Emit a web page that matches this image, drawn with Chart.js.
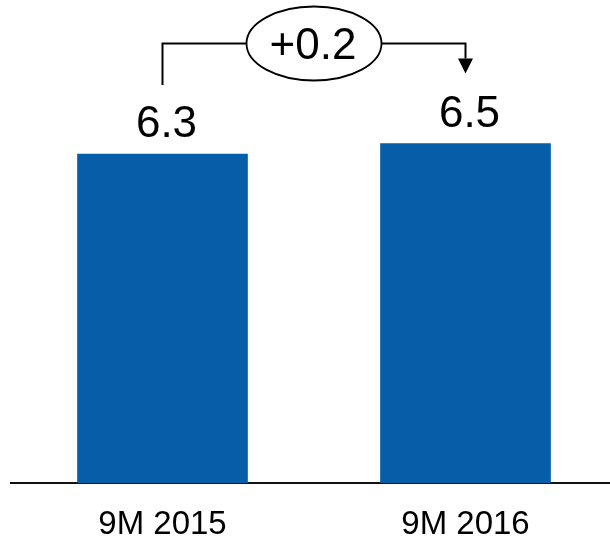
<!DOCTYPE html>
<html>
<head>
<meta charset="utf-8">
<script src="https://cdn.jsdelivr.net/npm/chart.js@4/dist/chart.umd.min.js"></script>
<style>
  html, body { margin: 0; padding: 0; background: #fff; overflow: hidden; }
  canvas { display: block; }
</style>
</head>
<body>
<canvas id="c" width="617" height="540"></canvas>
<script>
// Nine-month figures
const categories = ['9M 2015', '9M 2016'];
const values = [6.3, 6.5];

const FONT = '"Liberation Sans", Arial, Helvetica, sans-serif';
const BAR_BLUE = '#055EA7';

// Value labels above each bar
const valueLabels = {
  id: 'valueLabels',
  afterDatasetsDraw(chart) {
    const ctx = chart.ctx;
    const meta = chart.getDatasetMeta(0);
    ctx.save();
    ctx.fillStyle = '#000';
    ctx.font = '44px ' + FONT;
    ctx.textAlign = 'center';
    ctx.textBaseline = 'alphabetic';
    meta.data.forEach((bar, i) => {
      ctx.fillText(values[i].toFixed(1), bar.x + 4, bar.y - 17);
    });
    ctx.restore();
  }
};

// Bracket with the change between the two periods
const changeBracket = {
  id: 'changeBracket',
  afterDatasetsDraw(chart) {
    const ctx = chart.ctx;
    const meta = chart.getDatasetMeta(0);
    const a = meta.data[0], b = meta.data[1];
    const delta = values[1] - values[0];
    const text = (delta >= 0 ? '+' : '') + delta.toFixed(1);

    const lineY = 43.5;
    const startBottom = a.y - 69;   // just above the first value label
    const tipY = b.y - 70;          // arrow tip above the second value label
    const cx = (a.x + b.x) / 2;
    const rx = 67.5, ry = 37;

    ctx.save();
    ctx.strokeStyle = '#000';
    ctx.fillStyle = '#000';
    ctx.lineWidth = 2;

    ctx.beginPath();
    ctx.moveTo(a.x, startBottom);
    ctx.lineTo(a.x, lineY);
    ctx.lineTo(cx - rx, lineY);
    ctx.stroke();

    ctx.beginPath();
    ctx.moveTo(cx + rx, lineY);
    ctx.lineTo(b.x, lineY);
    ctx.lineTo(b.x, tipY - 15);
    ctx.stroke();

    ctx.beginPath();
    ctx.moveTo(b.x - 7.5, tipY - 15);
    ctx.lineTo(b.x + 7.5, tipY - 15);
    ctx.lineTo(b.x, tipY);
    ctx.closePath();
    ctx.fill();

    ctx.lineWidth = 1.8;
    ctx.beginPath();
    ctx.ellipse(cx, lineY, rx, ry, 0, 0, Math.PI * 2);
    ctx.fillStyle = '#fff';
    ctx.fill();
    ctx.stroke();

    ctx.fillStyle = '#000';
    ctx.font = '44px ' + FONT;
    ctx.textAlign = 'center';
    ctx.textBaseline = 'alphabetic';
    ctx.fillText(text, cx - 1, lineY + 15);
    ctx.restore();
  }
};

new Chart(document.getElementById('c'), {
  type: 'bar',
  data: {
    labels: categories,
    datasets: [{
      data: values,
      backgroundColor: BAR_BLUE,
      borderWidth: 0,
      barThickness: 170
    }]
  },
  options: {
    responsive: false,
    animation: false,
    devicePixelRatio: 1,
    layout: { padding: { top: 13, left: 11, right: 0, bottom: 0 } },
    plugins: {
      legend: { display: false },
      tooltip: { enabled: false }
    },
    scales: {
      x: {
        grid: { display: false, drawTicks: false },
        border: { display: true, color: '#111', width: 2 },
        ticks: {
          color: '#000',
          padding: 22,
          font: { family: FONT, size: 33, lineHeight: 1.2 }
        },
        afterFit(scale) { scale.height = 57; }
      },
      y: {
        display: false,
        min: 0,
        max: 9
      }
    }
  },
  plugins: [valueLabels, changeBracket]
});
</script>
</body>
</html>
